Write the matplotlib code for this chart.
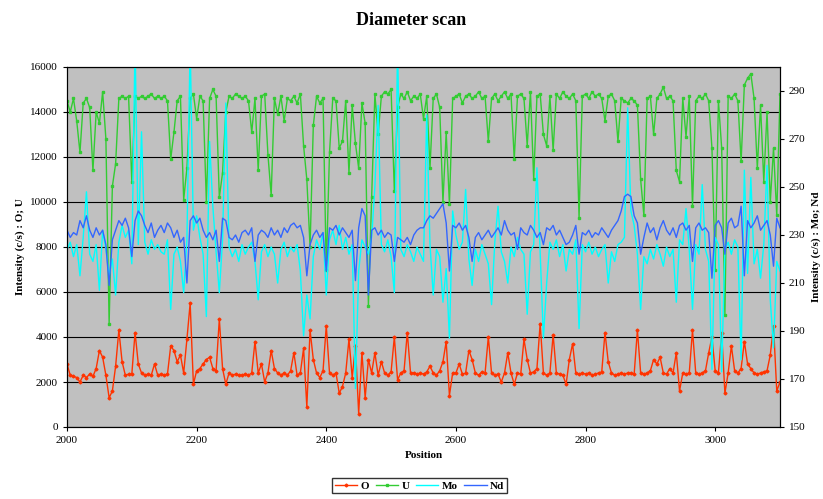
import numpy as np
import matplotlib
matplotlib.use("Agg")
import matplotlib.pyplot as plt

plt.rcParams['font.family'] = ['Liberation Serif', 'DejaVu Serif']

# position 2000..3100, every 5
position = np.arange(2000, 3101, 5)

# O (c/s), left axis
o_vals = [
    2800, 2300, 2250, 2200, 2000, 2300, 2200, 2350, 2250, 2600,
    3400, 3100, 2300, 1300, 1600, 2700, 4300, 2900, 2300, 2350,
    2350, 4200, 2800, 2400, 2300, 2350, 2300, 2800, 2300, 2350,
    2300, 2350, 3600, 3400, 2900, 3200, 2400, 3900, 5500, 1900,
    2500, 2600, 2800, 3000, 3100, 2600, 2500, 4800, 2600, 1900,
    2400, 2300, 2350, 2300, 2300, 2350, 2300, 2400, 3800, 2400,
    2800, 2000, 2400, 3400, 2600, 2400, 2300, 2400, 2300, 2500,
    3300, 2300, 2400, 3500, 900, 4300, 3000, 2400, 2200, 2500,
    4500, 2400, 2300, 2400, 1500, 1800, 2400, 3900, 2200, 3600,
    600, 3300, 1300, 3000, 2400, 3300, 2300, 2900, 2400, 2300,
    2450, 4000, 2100, 2400, 2500, 4200, 2400, 2400, 2350, 2400,
    2350, 2450, 2700, 2400, 2300, 2500, 2900, 3800, 1400, 2400,
    2400, 2800, 2350, 2400, 3400, 3000, 2400, 2300, 2450, 2400,
    4000, 2400, 2300, 2350, 2000, 2400, 3300, 2400, 1900, 2400,
    2350, 3900, 3000, 2400, 2450, 2600, 4600, 2400, 2300, 2400,
    4100, 2400, 2350, 2300, 1900, 3000, 3700, 2400, 2350, 2400,
    2350, 2400, 2300, 2350, 2400, 2450, 4200, 2900, 2400, 2300,
    2350, 2400, 2350, 2400, 2400, 2350, 4300, 2400, 2350, 2400,
    2500, 3000, 2800, 3100, 2400, 2350, 2600, 2400, 3300, 1600,
    2400, 2350, 2400, 4300, 2400, 2350, 2400, 2500, 3300, 4000,
    2500, 2400, 4200, 1500, 2400, 3600, 2500, 2400, 2600, 3800,
    2800, 2600, 2400, 2350, 2400, 2450, 2500, 3200, 4500, 1600,
    2000,
]

# U (c/s), left axis
u_vals = [
    14500, 14000, 14600, 13600, 12200, 14400, 14600, 14200, 11400, 14000,
    13500, 14900, 12800, 4600, 10700, 11700, 14600, 14700, 14600, 14700,
    10900, 14700, 14600, 14700, 14600, 14700, 14800, 14600, 14700, 14600,
    14700, 14500, 11900, 13100, 14500, 14700, 10100, 11500, 14600, 14800,
    13700, 14700, 14500, 10000, 14600, 15000, 14700, 10200, 11300, 14000,
    14700, 14600, 14800, 14700, 14600, 14700, 14500, 13100, 14600, 11400,
    14700, 14800, 12100, 10300, 14600, 13900, 14700, 13600, 14600, 14500,
    14700, 14400, 14800, 12500, 11000, 8000, 13400, 14700, 14400, 14600,
    7000, 12200, 14600, 14500, 12400, 12700, 14500, 11300, 14300, 12600,
    11500, 14400, 13500, 5400, 10200, 14800, 13000, 14700, 14900, 14800,
    15000, 10500, 14200, 14800, 14600, 14900, 14500, 14700, 14600, 14800,
    13700, 14700, 11500, 14600, 14800, 14200, 10000, 13100, 9900, 14600,
    14700, 14800, 14400, 14700, 14800, 14600, 14700, 14900, 14600, 14700,
    12700, 14600, 14800, 14500, 14700, 14900, 14600, 14800, 11900, 14700,
    14800, 14600, 12500, 14900, 11000, 14700, 14800, 13000, 12500, 14700,
    12300, 14800, 14600, 14900, 14700, 14600, 14800, 14500, 9300, 14700,
    14800, 14600, 14900, 14700, 14800, 14600, 13600, 14700, 14800, 14500,
    12700, 14600, 14500, 14400, 14600, 14500, 14300, 11000, 9400, 14600,
    14700, 13000, 14600, 14800, 15100, 14600, 14700, 14500, 11400, 10900,
    14600, 12900, 14700, 9800, 14500, 14700, 14600, 14800, 14500, 12400,
    7000, 14500, 12400, 5000, 14700, 14600, 14800, 14500, 11800, 15200,
    15500, 15700, 14600, 11500, 14300, 10900, 14000, 10000, 12400, 9400,
    14800,
]

# Mo (c/s), right axis
mo_vals = [
    224, 227, 221, 226, 213, 229, 248, 222, 219, 226,
    207, 232, 224, 213, 220, 205, 227, 234, 229, 232,
    218, 310, 226, 273, 227, 222, 228, 224, 226, 223,
    222, 228, 199, 222, 225, 219, 206, 228, 310, 232,
    238, 229, 222, 196, 269, 242, 223, 206, 228, 285,
    225, 221, 224, 219, 226, 222, 225, 227, 219, 203,
    223, 226, 221, 225, 222, 210, 224, 227, 221, 225,
    223, 226, 215, 188, 205, 195, 221, 228, 224, 231,
    205, 228, 232, 226, 234, 224, 229, 222, 226, 166,
    215, 228, 225, 222, 229, 250, 284, 226, 223, 228,
    221, 206, 310, 224, 221, 226, 223, 219, 225, 222,
    219, 280, 226, 205, 224, 221, 202, 216, 187, 240,
    230, 224, 227, 249, 220, 209, 224, 219, 226, 222,
    218, 201, 227, 242, 223, 219, 210, 225, 221, 229,
    224, 222, 197, 223, 226, 258, 222, 187, 210, 227,
    224, 228, 221, 226, 215, 224, 222, 228, 191, 226,
    223, 227, 222, 225, 221, 224, 226, 210, 223, 219,
    226, 227, 229, 283, 240, 234, 222, 199, 221, 218,
    224, 220, 226, 222, 217, 225, 221, 224, 202, 228,
    226, 241, 224, 199, 226, 222, 251, 224, 219, 174,
    229, 226, 173, 224, 227, 222, 228, 225, 178, 257,
    214, 254, 218, 224, 212, 226, 259, 203, 183, 219,
    215,
]

# Nd (c/s), right axis
nd_vals = [
    232, 229, 231, 230, 236, 233, 238, 232, 229, 233,
    230, 232, 226, 209, 228, 232, 236, 234, 237, 233,
    221, 236, 240, 238, 234, 231, 235, 229, 232, 234,
    231, 235, 233, 229, 232, 227, 229, 210, 236, 238,
    235, 237, 232, 229, 231, 228, 232, 219, 237, 236,
    229, 228, 230, 227, 231, 232, 230, 233, 219, 230,
    232, 231, 229, 233, 230, 232, 229, 233, 231, 234,
    235, 233, 234, 229, 213, 226, 230, 232, 229, 231,
    215, 233, 232, 234, 230, 233, 231, 229, 232, 211,
    233, 241, 238, 205, 232, 233, 230, 232, 229, 231,
    230, 219, 229, 228, 227, 229, 226, 230, 232, 233,
    233, 236, 238, 237, 239, 241, 243, 235, 215, 234,
    233, 235, 232, 234, 229, 219, 229, 231, 228, 230,
    232, 229, 231, 233, 230, 236, 232, 230, 231, 224,
    233, 231, 230, 234, 232, 229, 231, 226, 233, 232,
    234, 230, 232, 229, 226, 227, 230, 234, 222, 231,
    230, 232, 229, 231, 230, 233, 231, 229, 232, 234,
    236, 240, 246, 247, 246, 238, 235, 222, 229, 235,
    231, 233, 228, 233, 236, 232, 230, 233, 229, 234,
    235, 232, 234, 219, 233, 235, 232, 233, 231, 212,
    234, 236, 233, 222, 235, 237, 233, 234, 242, 213,
    236, 233, 235, 238, 232, 234, 236, 230, 217, 237,
    233,
]

fig = plt.figure(figsize=(8.23, 4.99), dpi=100)
ax = fig.add_axes([67 / 823, 1 - 427 / 499, (780 - 67) / 823, (427 - 67) / 499])
ax.set_facecolor('#C0C0C0')

# left axis: O and U
l_o, = ax.plot(position, o_vals, color='#FF3300', lw=1, marker='D', ms=1.5, label='O')
l_u, = ax.plot(position, u_vals, color='#33CC33', lw=1, marker='s', ms=1.8, label='U')
ax.set_xlim(2000, 3100)
ax.set_ylim(0, 16000)
ax.set_yticks(np.arange(0, 16001, 2000))
ax.set_xticks(np.arange(2000, 3001, 200))
ax.yaxis.grid(True, color='black', lw=0.8)
ax.set_axisbelow(True)
ax.tick_params(labelsize=8, direction='out', length=3)
ax.set_xlabel('Position', fontsize=8, fontweight='bold')
ax.set_ylabel('Intensity (c/s) : O; U', fontsize=8, fontweight='bold')

# right axis: Mo and Nd
ax2 = ax.twinx()
l_mo, = ax2.plot(position, mo_vals, color='#00FFFF', lw=1, label='Mo')
l_nd, = ax2.plot(position, nd_vals, color='#3366FF', lw=1, label='Nd')
ax2.set_ylim(150, 300)
ax2.set_yticks(np.arange(150, 291, 20))
ax2.tick_params(labelsize=8, direction='out', length=3)
ax2.set_ylabel('Intensity (c/s) : Mo; Nd', fontsize=8, fontweight='bold')

for a in (ax, ax2):
    for s in a.spines.values():
        s.set_color('black')
        s.set_linewidth(0.8)

fig.suptitle('Diameter scan', y=0.975, fontsize=13, fontweight='bold')

fig.legend(handles=[l_o, l_u, l_mo, l_nd], loc='lower center', ncol=4,
           bbox_to_anchor=(0.51, 0.0), frameon=True, fancybox=False,
           edgecolor='black', prop={'size': 8, 'weight': 'bold'},
           handlelength=2.0, columnspacing=0.6, handletextpad=0.3,
           borderpad=0.25)

fig.savefig('out.png', dpi=100)
